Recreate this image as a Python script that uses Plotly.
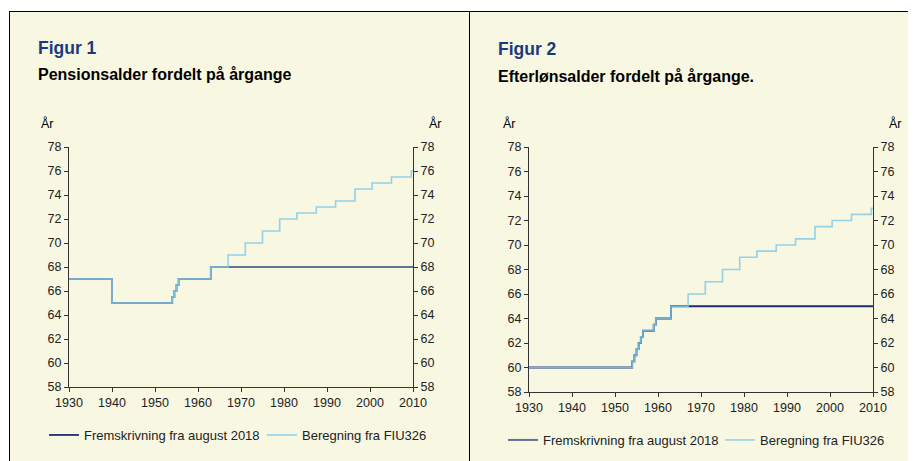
import plotly.graph_objects as go

# ---------------- data ----------------
# Figur 1: Pensionsalder (step series, value applies from the given birth year)
pen_frem_years = [1930, 1940, 1954, 1954.5, 1955, 1955.5, 1963, 2010]
pen_frem_ages = [67, 65, 65.5, 66, 66.5, 67, 68, 68]
pen_ber_years = [1930, 1940, 1954, 1954.5, 1955, 1955.5, 1963, 1967, 1971, 1975, 1979,
                 1983, 1987.5, 1992, 1996.5, 2000.5, 2005, 2009.6, 2010]
pen_ber_ages = [67, 65, 65.5, 66, 66.5, 67, 68, 69, 70, 71, 72,
                72.5, 73, 73.5, 74.5, 75, 75.5, 76, 76]

# Figur 2: Efterlønsalder
eft_frem_years = [1930, 1954, 1954.5, 1955, 1955.5, 1956, 1956.5, 1959, 1959.5, 1963, 2010]
eft_frem_ages = [60, 60.5, 61, 61.5, 62, 62.5, 63, 63.5, 64, 65, 65]
eft_ber_years = [1930, 1954, 1954.5, 1955, 1955.5, 1956, 1956.5, 1959, 1959.5, 1963, 1967,
                 1971, 1975, 1979, 1983, 1987.5, 1992, 1996.5, 2000.5, 2005, 2009.6, 2010]
eft_ber_ages = [60, 60.5, 61, 61.5, 62, 62.5, 63, 63.5, 64, 65, 66,
                67, 68, 69, 69.5, 70, 70.5, 71.5, 72, 72.5, 73, 73]

x_ticks = [1930, 1940, 1950, 1960, 1970, 1980, 1990, 2000, 2010]
y_ticks = [58, 60, 62, 64, 66, 68, 70, 72, 74, 76, 78]

name_frem = "Fremskrivning fra august 2018"
name_ber = "Beregning fra FIU326"

# ---------------- styling ----------------
# The page body has an 8px margin, so the figure occupies (8,8)-(916,461)
OFF = 8
W, H = 916 - OFF, 461 - OFF
def px(x):
    return (x - OFF) / W
def py(y):
    return 1 - (y - OFF) / H

CREAM = "#F8F7E2"
NAVY = "#1F2D6E"
SLATE = "#62739A"
LIGHT = "#84CBEA"
AX = "#333333"
FONT = "Arial, Liberation Sans, sans-serif"

fig = go.Figure()

# left chart (its legend is drawn under the right chart, matching the reference colours)
fig.add_trace(go.Scatter(x=pen_frem_years, y=pen_frem_ages, mode="lines", name=name_frem,
                         line=dict(color=SLATE, width=2, shape="hv"),
                         xaxis="x", yaxis="y", legend="legend2"))
fig.add_trace(go.Scatter(x=pen_ber_years, y=pen_ber_ages, mode="lines", name=name_ber,
                         line=dict(color=LIGHT, width=1.6, shape="hv"), opacity=0.85,
                         xaxis="x", yaxis="y3", legend="legend2"))
# right chart
fig.add_trace(go.Scatter(x=eft_frem_years, y=eft_frem_ages, mode="lines", name=name_frem,
                         line=dict(color=NAVY, width=1.8, shape="hv"),
                         xaxis="x2", yaxis="y2", legend="legend"))
fig.add_trace(go.Scatter(x=eft_ber_years, y=eft_ber_ages, mode="lines", name=name_ber,
                         line=dict(color=LIGHT, width=1.6, shape="hv"), opacity=0.85,
                         xaxis="x2", yaxis="y4", legend="legend"))

tickfont = dict(family=FONT, size=12.5, color="#222222")
def xax(domain, anchor):
    return dict(domain=domain, anchor=anchor, range=[1930, 2010], tickvals=x_ticks,
                ticks="outside", ticklen=4, tickcolor=AX, showline=True, linecolor=AX,
                linewidth=1, showgrid=False, zeroline=False, tickfont=tickfont,
                fixedrange=True, automargin=False)
def yax(domain, anchor, side, overlay=None):
    d = dict(anchor=anchor, range=[58, 78], tickvals=y_ticks, side=side,
             ticks="outside", ticklen=4, tickcolor=AX, showline=True, linecolor=AX,
             linewidth=1, showgrid=False, zeroline=False, tickfont=tickfont,
             fixedrange=True, automargin=False)
    if overlay:
        d["overlaying"] = overlay
    else:
        d["domain"] = domain
    return d

d1x = [px(69), px(413)]
d1y = [py(387), py(147)]
d2x = [px(529), px(873)]
d2y = [py(392), py(147)]

shapes = [
    dict(type="rect", xref="paper", yref="paper", x0=px(9), x1=1, y0=0, y1=py(11),
         fillcolor=CREAM, line=dict(width=0), layer="below"),
    dict(type="line", xref="paper", yref="paper", x0=px(9), x1=1, y0=py(11.5), y1=py(11.5),
         line=dict(color="black", width=1)),
    dict(type="line", xref="paper", yref="paper", x0=px(9.5), x1=px(9.5), y0=0, y1=py(11),
         line=dict(color="black", width=1)),
    dict(type="line", xref="paper", yref="paper", x0=px(469.5), x1=px(469.5), y0=0, y1=py(11),
         line=dict(color="black", width=1)),
]

def ann(text, x, y, size, color="black", bold=False):
    return dict(text=f"<b>{text}</b>" if bold else text, x=px(x), y=py(y),
                xref="paper", yref="paper", xanchor="left", yanchor="middle",
                showarrow=False, font=dict(family=FONT, size=size, color=color))

TITLE_BLUE = "#1B3A7E"
annotations = [
    ann("Figur 1", 36, 48, 17.5, TITLE_BLUE, True),
    ann("Pensionsalder fordelt på årgange", 36, 75, 16, "black", True),
    ann("År", 39, 124, 12.5),
    ann("År", 427, 124, 12.5),
    ann("Figur 2", 496, 49, 17.5, TITLE_BLUE, True),
    ann("Efterlønsalder fordelt på årgange.", 496, 76, 16, "black", True),
    ann("År", 501, 124, 12.5),
    ann("År", 887, 124, 12.5),
]

legfont = dict(family=FONT, size=13, color="#222222")
fig.update_layout(
    width=W, height=H,
    margin=dict(l=0, r=0, t=0, b=0, pad=0, autoexpand=False),
    paper_bgcolor="white",
    plot_bgcolor="rgba(0,0,0,0)",
    xaxis=xax(d1x, "y"),
    yaxis=yax(d1y, "x", "left"),
    yaxis3=yax(d1y, "x", "right", overlay="y"),
    xaxis2=xax(d2x, "y2"),
    yaxis2=yax(d2y, "x2", "left"),
    yaxis4=yax(d2y, "x2", "right", overlay="y2"),
    legend=dict(orientation="h", x=px(44), y=py(435), xanchor="left", yanchor="middle",
                bgcolor="rgba(0,0,0,0)", font=legfont, itemwidth=30,
                entrywidth=173, entrywidthmode="pixels", traceorder="normal"),
    legend2=dict(orientation="h", x=px(503), y=py(440), xanchor="left", yanchor="middle",
                 bgcolor="rgba(0,0,0,0)", font=legfont, itemwidth=30,
                 entrywidth=172, entrywidthmode="pixels", traceorder="normal"),
    shapes=shapes,
    annotations=annotations,
    showlegend=True,
)

fig.write_html("out.html")
